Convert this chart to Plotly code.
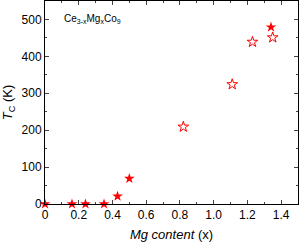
import plotly.graph_objects as go

x_filled = [0.0, 0.16, 0.24, 0.35, 0.43, 0.50, 1.34]
tc_filled = [0, 0, 0, 0, 21, 69, 479]
x_open = [0.82, 1.11, 1.23, 1.35]
tc_open = [209, 324, 439, 451]
x_tickvals = [0, 0.2, 0.4, 0.6, 0.8, 1.0, 1.2, 1.4]
x_ticktext = ["0", "0.2", "0.4", "0.6", "0.8", "1.0", "1.2", "1.4"]

fig = go.Figure()
fig.add_trace(go.Scatter(x=x_filled, y=tc_filled, mode="markers",
                         marker=dict(symbol="star", size=8, color="red", line=dict(width=0)),
                         cliponaxis=False, showlegend=False))
fig.add_trace(go.Scatter(x=x_open, y=tc_open, mode="markers",
                         marker=dict(symbol="star-open", size=8, color="red", line=dict(width=1)),
                         showlegend=False))

fnt = dict(family="Liberation Sans, Arial, sans-serif", size=12, color="black")
fig.update_layout(
    width=300, height=242,
    margin=dict(l=45, r=2, t=1, b=38),
    plot_bgcolor="white", paper_bgcolor="white",
    font=fnt,
    xaxis=dict(range=[0, 1.5], tickvals=x_tickvals, ticktext=x_ticktext,
               ticks="inside", ticklen=4,
               showgrid=False, zeroline=False, showline=True, linecolor="black",
               linewidth=1, mirror="ticks", automargin=False,
               minor=dict(dtick=0.1, tick0=0, ticks="inside", ticklen=2),
               title=dict(text="<i>Mg content</i> (x)", font=dict(size=13))),
    yaxis=dict(range=[0, 550], dtick=100, tick0=0, ticks="inside", ticklen=4,
               showgrid=False, zeroline=False, showline=True, linecolor="black",
               linewidth=1, mirror="ticks", automargin=False,
               minor=dict(dtick=50, ticks="inside", ticklen=2),
               title=dict(text="<i>T</i><sub>C</sub> (K)", font=dict(size=13))),
    annotations=[dict(text="Ce<sub>3-x</sub>Mg<sub>x</sub>Co<sub>9</sub>",
                      x=0.1, y=500, xref="x", yref="y", xanchor="left",
                      yanchor="middle", showarrow=False, font=dict(size=10))],
)
fig.write_html("out.html", config={"displayModeBar": False},
               post_script="document.body.style.margin='0';document.body.style.overflow='hidden';")
